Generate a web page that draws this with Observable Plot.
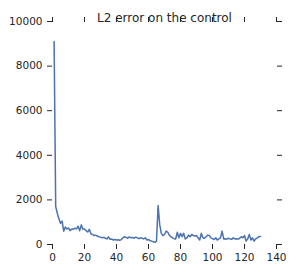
<!DOCTYPE html>
<html>
<head>
<meta charset="utf-8">
<script src="https://cdn.jsdelivr.net/npm/d3@7"></script>
<script src="https://cdn.jsdelivr.net/npm/@observablehq/plot@0.6"></script>
<style>
  html, body { margin: 0; padding: 0; background: #fff; }
  #chart svg { display: block; }
</style>
</head>
<body>
<div id="chart"></div>
<script>
const title = "L2 error on the control";
const xTicks = [0, 20, 40, 60, 80, 100, 120, 140];
const yTicks = [0, 2000, 4000, 6000, 8000, 10000];
const errors = [
  9100, 1700, 1400, 1150, 950, 1050, 600, 780, 700, 740,
  620, 700, 680, 730, 700, 820, 620, 880, 680, 700,
  620, 560, 680, 480, 450, 400, 420, 380, 350, 330,
  300, 320, 280, 250, 345, 230, 250, 200, 220, 200,
  210, 190, 220, 300, 350, 320, 280, 340, 300, 320,
  280, 330, 300, 260, 300, 280, 250, 300, 200, 220,
  180, 150, 120, 100, 150, 1750, 900, 500, 400, 450,
  600, 550, 420, 350, 300, 260, 250, 550, 300, 500,
  350, 500, 250, 300, 420, 350, 450, 400, 380, 400,
  300, 200, 500, 300, 280, 350, 420, 400, 300, 260,
  220, 300, 200, 250, 300, 600, 250, 260, 240, 280,
  250, 230, 300, 250, 260, 240, 280, 350, 300, 400,
  150, 250, 450, 200, 300, 150, 250, 300, 350, 360
];
const data = errors.map((v, i) => ({x: i + 1, y: v}));
const ink = "#262626";

const chart = Plot.plot({
  width: 293,
  height: 272,
  marginLeft: 52,
  marginRight: 17,
  marginTop: 21,
  marginBottom: 28,
  style: {fontFamily: "DejaVu Sans", fontSize: "10.5px", color: ink, background: "#fff"},
  x: {domain: [0, 140]},
  y: {domain: [0, 10000]},
  marks: [
    Plot.axisX(xTicks, {anchor: "bottom", tickSize: 5, tickPadding: 4, tickFormat: d3.format("d"), label: null, stroke: ink, fill: ink}),
    Plot.axisX(xTicks, {anchor: "top", tickSize: 5, tickFormat: () => "", label: null, stroke: ink}),
    Plot.axisY(yTicks, {anchor: "left", tickSize: 5, tickPadding: 5, tickFormat: d3.format("d"), label: null, stroke: ink, fill: ink}),
    Plot.axisY(yTicks, {anchor: "right", tickSize: 5, tickFormat: () => "", label: null, stroke: ink}),
    Plot.lineY(data, {x: "x", y: "y", stroke: "#4C72B0", strokeWidth: 1.5}),
    Plot.text([title], {frameAnchor: "top", dy: -8, fontSize: 12, fill: ink, text: d => d})
  ]
});
document.getElementById("chart").appendChild(chart);
</script>
</body>
</html>
